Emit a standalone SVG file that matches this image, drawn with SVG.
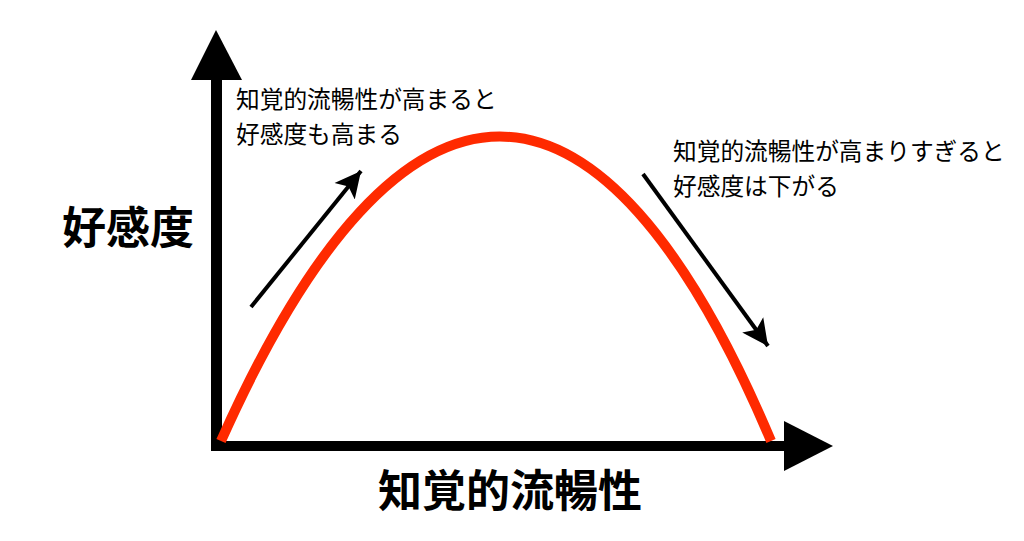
<svg xmlns="http://www.w3.org/2000/svg" width="1024" height="541" viewBox="0 0 1024 541">
<style>
.lbl{font-family:"Noto Sans CJK JP","Noto Sans CJK SC",sans-serif;fill:#000}
.sm{font-size:23.7px}
.big{font-size:44px;font-weight:bold}
.arr{stroke:#000;stroke-width:4;fill:none}
</style>
<defs>
<marker id="ah" markerUnits="userSpaceOnUse" markerWidth="30" markerHeight="30" refX="26" refY="13" orient="auto" viewBox="0 0 30 26">
<path d="M0,0 L26,13 L0,26 L6,13 Z" fill="#000"/>
</marker>
</defs>
<rect width="1024" height="541" fill="#fff"/>
<g id="axes">
<rect x="211" y="78" width="11" height="373" fill="#000"/>
<polygon points="216,30 242,80 191,80" fill="#000"/>
<rect x="211" y="441" width="575" height="10" fill="#000"/>
<polygon points="833,446 784,421 784,471" fill="#000"/>
</g>
<g id="curve">
<path d="M221,441 C402,35 600,35 771,441" fill="none" stroke="#ff2a00" stroke-width="10"/>
</g>
<g id="connectors">
<line class="arr" x1="251" y1="307" x2="361" y2="171" marker-end="url(#ah)"/>
<line class="arr" x1="643" y1="174" x2="768" y2="346" marker-end="url(#ah)"/>
</g>
<g id="label-y">
<text class="lbl big" x="62" y="244">好感度</text>
</g>
<g id="label-x">
<text class="lbl big" x="378" y="507">知覚的流暢性</text>
</g>
<g id="note-left">
<text class="lbl sm" x="236" y="108">知覚的流暢性が高まると</text>
<text class="lbl sm" x="236" y="143">好感度も高まる</text>
</g>
<g id="note-right">
<text class="lbl sm" x="673" y="160">知覚的流暢性が高まりすぎると</text>
<text class="lbl sm" x="673" y="195">好感度は下がる</text>
</g>
</svg>
